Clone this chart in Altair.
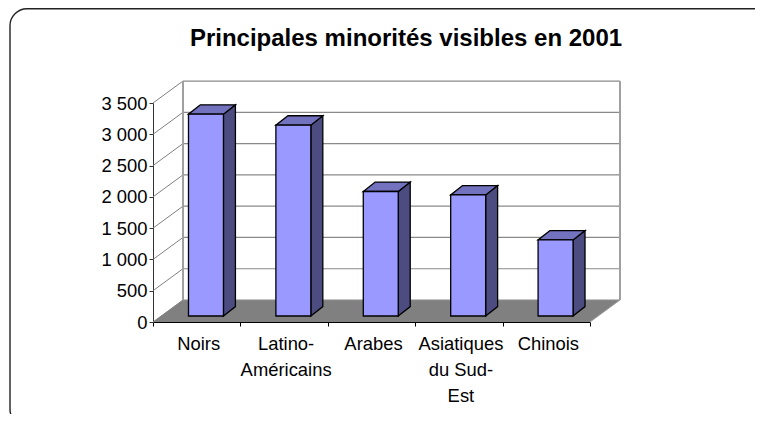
import altair as alt
import pandas as pd

TITLE = "Principales minorités visibles en 2001"
categories = ["Noirs", "Latino-\nAméricains", "Arabes", "Asiatiques\ndu Sud-\nEst", "Chinois"]
values = [3225, 3050, 1990, 1935, 1215]
y_ticks = [0, 500, 1000, 1500, 2000, 2500, 3000, 3500]
x_ticks = [0, 1, 2, 3, 4, 5]

FONT = "Liberation Sans"
WALL_DX, WALL_DY = 0.343, 351      # projection of the floor's depth
BAR_OFF, BAR_W = 0.406, 0.4        # bar position inside a category
BAR_BASE = 96                      # bar foot, raised on the floor
BAR_DX, BAR_DY = 0.137, 150        # bar depth

xs = alt.Scale(domain=[0, 5], nice=False, zero=False)
ys = alt.Scale(domain=[0, 3500], nice=False, zero=False)
x_axis = alt.Axis(
    values=x_ticks, labels=False, grid=False, tickSize=4, tickColor="#000000",
    domainColor="#000000", domainWidth=1.2, tickWidth=1, title=None,
)
y_axis = alt.Axis(
    values=y_ticks, grid=False, tickSize=4, tickColor="#333333", domainColor="#333333",
    labelFont=FONT, labelFontSize=18.4, labelColor="#000000", labelPadding=2, title=None,
    labelExpr="replace(format(datum.value, ','), ',', ' ')",
)
X = alt.X("x:Q", scale=xs, axis=x_axis)
Y = alt.Y("y:Q", scale=ys, axis=y_axis)

# Rounded frame of the slide
frame = alt.Chart(alt.Data(values=[{"a": 0}])).mark_rect(
    cornerRadius=17, fillOpacity=0, stroke="#222222", strokeWidth=1.4
).encode(x=alt.value(-143), x2=alt.value(700), y=alt.value(-94.2), y2=alt.value(323))

# Floor
floor_df = pd.DataFrame({
    "y": [0, WALL_DY],
    "x": [0, WALL_DX],
    "x2": [5, 5 + WALL_DX],
})
floor = alt.Chart(floor_df).mark_area(orient="horizontal", color="#808080").encode(
    x=X, x2="x2:Q", y=Y
)

# Walls: grid lines on the back wall and their diagonals on the side wall
grid_df = pd.DataFrame({
    "y": [v + WALL_DY for v in y_ticks],
    "x": [WALL_DX] * len(y_ticks),
    "x2": [5 + WALL_DX] * len(y_ticks),
})
grid = alt.Chart(grid_df).mark_rule(color="#8a8a8a", strokeWidth=1.2).encode(x=X, x2="x2:Q", y=Y)

diag_df = pd.DataFrame({
    "x": [0] * len(y_ticks),
    "x2": [WALL_DX] * len(y_ticks),
    "y": y_ticks,
    "y2": [v + WALL_DY for v in y_ticks],
})
diag = alt.Chart(diag_df).mark_rule(color="#808080", strokeWidth=1).encode(
    x=X, x2="x2:Q", y=Y, y2="y2:Q"
)

edge_df = pd.DataFrame({
    "x": [WALL_DX, 5 + WALL_DX],
    "y": [WALL_DY, WALL_DY],
    "y2": [3500 + WALL_DY, 3500 + WALL_DY],
})
edges = alt.Chart(edge_df).mark_rule(color="#a0a0a0", strokeWidth=2).encode(x=X, y=Y, y2="y2:Q")

floor_edge_df = pd.DataFrame({"x": [5], "x2": [5 + WALL_DX], "y": [0], "y2": [WALL_DY]})
floor_edge = alt.Chart(floor_edge_df).mark_rule(color="#a0a0a0", strokeWidth=1).encode(
    x=X, x2="x2:Q", y=Y, y2="y2:Q"
)

# Bars: front, side and top faces
front_rows, side_rows, top_rows = [], [], []
for i, v in enumerate(values):
    x0 = i + BAR_OFF
    x1 = x0 + BAR_W
    front_rows.append({"x": x0, "x2": x1, "y": BAR_BASE, "y2": v + BAR_BASE})
    side_rows += [
        {"bar": i, "x": x1, "y": BAR_BASE, "y2": v + BAR_BASE},
        {"bar": i, "x": x1 + BAR_DX, "y": BAR_BASE + BAR_DY, "y2": v + BAR_BASE + BAR_DY},
    ]
    top_rows += [
        {"bar": i, "y": v + BAR_BASE, "x": x0, "x2": x1},
        {"bar": i, "y": v + BAR_BASE + BAR_DY, "x": x0 + BAR_DX, "x2": x1 + BAR_DX},
    ]

side = alt.Chart(pd.DataFrame(side_rows)).mark_area(
    color="#4C4C80", stroke="#000000", strokeWidth=1.3
).encode(x=X, y=Y, y2="y2:Q", detail="bar:N")
top = alt.Chart(pd.DataFrame(top_rows)).mark_area(
    orient="horizontal", color="#7272BE", stroke="#000000", strokeWidth=1.3
).encode(x=X, x2="x2:Q", y=Y, detail="bar:N")
front = alt.Chart(pd.DataFrame(front_rows)).mark_rect(
    color="#9999FF", stroke="#000000", strokeWidth=1.3
).encode(x=X, x2="x2:Q", y=Y, y2="y2:Q")

# Category labels, centred in the tick intervals
labels_df = pd.DataFrame({"x": [i + 0.5 for i in range(len(categories))], "label": categories})
labels = alt.Chart(labels_df).mark_text(
    font=FONT, fontSize=18.4, lineBreak="\n", lineHeight=26, baseline="top", align="center",
    color="#000000", dx=2
).encode(x=X, y=alt.value(232), text="label:N")

chart = (
    alt.layer(frame, floor, grid, diag, edges, floor_edge, side, top, front, labels)
    .properties(
        width=437,
        height=219,
        padding={"left": 145, "top": 95, "right": 165, "bottom": 92},
        autosize=alt.AutoSizeParams(type="none"),
        title=alt.TitleParams(
            TITLE, font=FONT, fontSize=24, fontWeight="bold", color="#000000",
            anchor="middle", frame="group", offset=-43, dx=34.5,
        ),
    )
    .configure_view(stroke=None)
)

chart.save("out.html", embed_options={"renderer": "svg", "actions": False})
